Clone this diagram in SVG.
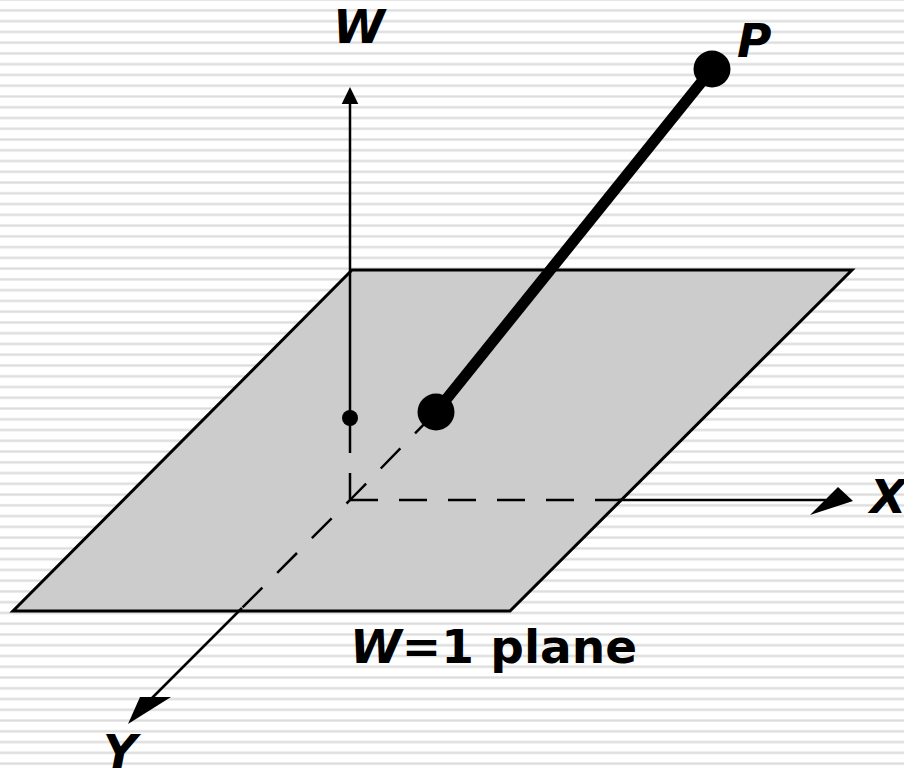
<svg xmlns="http://www.w3.org/2000/svg" width="904" height="769" viewBox="0 0 904 769">
  <defs>
    <pattern id="stripes" patternUnits="userSpaceOnUse" x="0" y="-1.86" width="904" height="10.76">
      <rect x="0" y="0" width="904" height="3" fill="#ebebeb"/>
      <rect x="0" y="0.8" width="904" height="1.4" fill="#dcdcdc"/>
    </pattern>
  </defs>
  <style>
    .thin { stroke: #000; stroke-width: 2.5; fill: none; }
    .dash { stroke: #000; stroke-width: 2.5; fill: none; stroke-dasharray: 28 21; }
    .head { fill: #000; }
    .lbl { font-family: "DejaVu Sans", "Verdana", sans-serif; font-weight: bold; font-size: 47px; fill: #000; }
    .it { font-style: italic; }
  </style>
  <rect width="904" height="769" fill="#ffffff"/>
  <rect width="904" height="769" fill="url(#stripes)"/>

  <g id="plane">
    <polygon points="352,270 852,270 510,611 13,611" fill="#cccccc" stroke="#000" stroke-width="3" stroke-linejoin="miter"/>
  </g>

  <g id="connectors">
    <!-- W axis -->
    <line class="thin" x1="350" y1="102" x2="350" y2="453"/>
    <line class="thin" x1="350" y1="473" x2="350" y2="500"/>
    <polygon class="head" points="350,87 358.3,104 341.7,104"/>
    <!-- X axis -->
    <path class="dash" d="M350 500 L621 500"/>
    <line class="thin" x1="618" y1="500" x2="826" y2="500"/>
    <polygon class="head" points="853,501 810,515 838,487"/>
    <!-- projection line / Y axis -->
    <path class="dash" stroke-dashoffset="-2" d="M436 412 L350 500 L239 611"/>
    <line class="thin" x1="242" y1="608" x2="150" y2="700"/>
    <polygon class="head" points="128,724 140,697 171,697"/>
    <!-- thick line to P -->
    <line x1="436" y1="412" x2="712" y2="69" stroke="#000" stroke-width="11"/>
  </g>

  <g id="points">
    <circle cx="350" cy="418" r="8" fill="#000"/>
    <circle cx="436" cy="412" r="18.5" fill="#000"/>
    <circle cx="712" cy="69" r="18.5" fill="#000"/>
  </g>

  <g id="labels">
    <text class="lbl it" x="333" y="43">W</text>
    <text class="lbl it" x="737" y="57">P</text>
    <text class="lbl it" x="870" y="513">X</text>
    <text class="lbl it" x="103" y="768">Y</text>
    <text class="lbl" x="350" y="663"><tspan class="it">W</tspan>=1 plane</text>
  </g>
</svg>
